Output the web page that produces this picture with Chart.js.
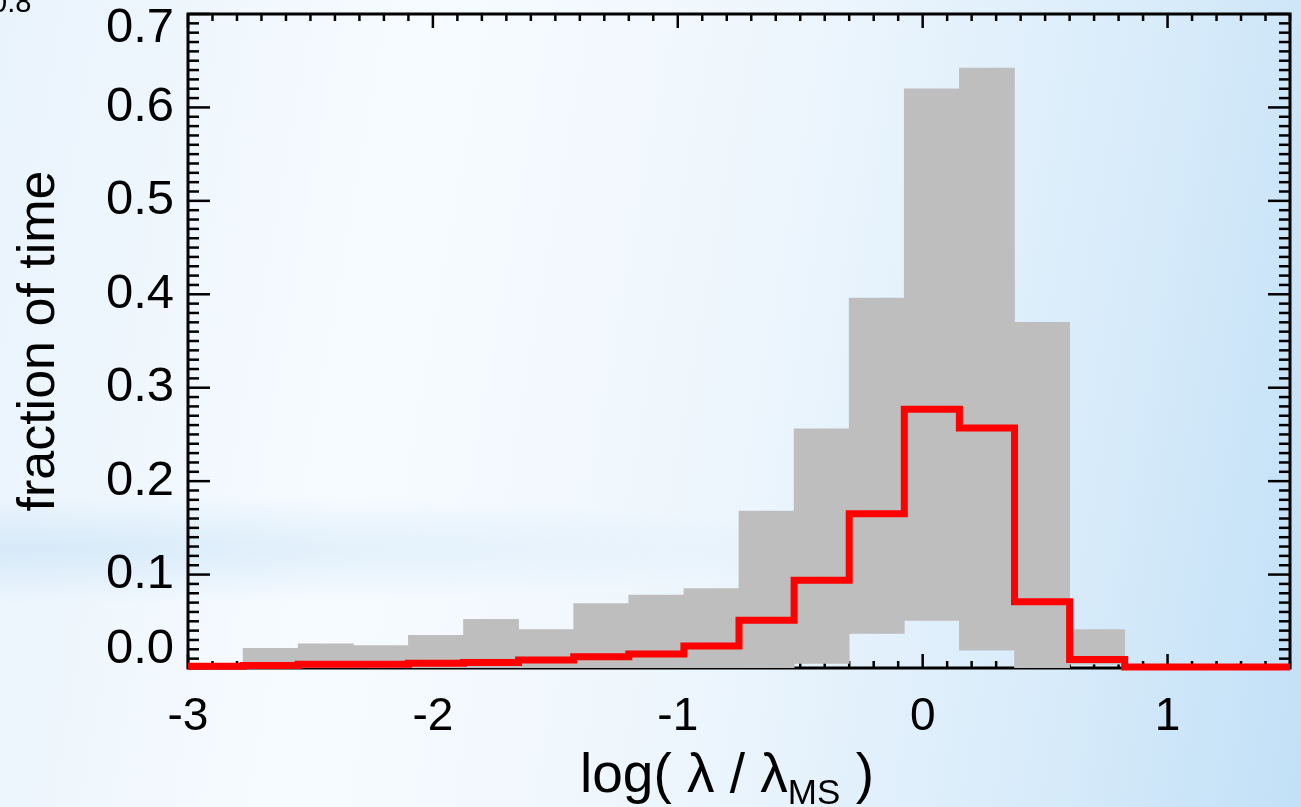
<!DOCTYPE html>
<html>
<head>
<meta charset="utf-8">
<title>fraction of time</title>
<script src="https://cdn.jsdelivr.net/npm/chart.js@4.4.1/dist/chart.umd.min.js"></script>
<style>
  html, body { margin: 0; padding: 0; }
  body {
    width: 1301px;
    height: 807px;
    overflow: hidden;
    background:
      radial-gradient(ellipse 900px 55px at 0% 68%, rgba(200, 226, 246, 0.6), rgba(200, 226, 246, 0) 100%),
      linear-gradient(100deg, #e9f3fc 0%, #f6fbff 30%, #eef6fd 55%, #d9ecfa 80%, #c2e0f7 100%);
  }
  #wrap { position: relative; width: 1301px; height: 807px; }
</style>
</head>
<body>
<div id="wrap"><canvas id="chart" width="1301" height="807"></canvas></div>
<script>
// bin edges in log(lambda / lambda_MS), 20 bins from -3 to 1.5
const binEdges = [-3, -2.775, -2.55, -2.325, -2.1, -1.875, -1.65, -1.425, -1.2, -0.975,
  -0.75, -0.525, -0.3, -0.075, 0.15, 0.375, 0.6, 0.825, 1.05, 1.275, 1.5];
// grey band (range), null = no band in that bin
const grayLow = [null, 0, 0, 0, 0, 0, 0, 0, 0, 0,
  0, 0.005, 0.037, 0.051, 0.019, 0, 0.004, null, null, null];
const grayHigh = [null, 0.021, 0.026, 0.024, 0.035, 0.052, 0.041, 0.069, 0.078, 0.085,
  0.168, 0.256, 0.396, 0.620, 0.642, 0.370, 0.041, null, null, null];
// red histogram
const redFrac = [0.002, 0.0027, 0.004, 0.004, 0.005, 0.006, 0.0086, 0.012, 0.015, 0.0235,
  0.051, 0.094, 0.165, 0.277, 0.257, 0.071, 0.009, 0.001, 0.001, 0.001];
const xTicks = [-3, -2, -1, 0, 1];
const yTicks = [0, 0.1, 0.2, 0.3, 0.4, 0.5, 0.6, 0.7];

const FONT = '"Liberation Sans", Arial, Helvetica, sans-serif';

const bandData = [];
grayHigh.forEach((hi, i) => {
  if (hi == null) return;
  bandData.push({ x: (binEdges[i] + binEdges[i + 1]) / 2, y: [grayLow[i], hi] });
});
const stepData = redFrac.map((v, i) => ({ x: binEdges[i], y: v }));
stepData.push({ x: binEdges[binEdges.length - 1], y: redFrac[redFrac.length - 1] });

// IDL style frame with inward ticks on all four sides
const idlAxes = {
  id: 'idlAxes',
  beforeDatasetsDraw(chart) {
    const { ctx, chartArea: a, scales: { x, y } } = chart;
    const seg = (x1, y1, x2, y2) => { ctx.beginPath(); ctx.moveTo(x1, y1); ctx.lineTo(x2, y2); ctx.stroke(); };
    ctx.save();
    ctx.strokeStyle = '#000';
    ctx.lineWidth = 2.5;
    for (let k = Math.round(x.min * 10); k <= Math.round(x.max * 10); k++) {
      const px = x.getPixelForValue(k / 10);
      const len = k % 10 === 0 ? 14 : 7;
      seg(px, a.bottom, px, a.bottom - len);
      seg(px, a.top, px, a.top + len);
    }
    for (let k = Math.round(y.min * 100); k <= Math.round(y.max * 100); k++) {
      const py = y.getPixelForValue(k / 100);
      const len = k % 10 === 0 ? 22 : 11;
      seg(a.left, py, a.left + len, py);
      seg(a.right, py, a.right - len, py);
    }
    ctx.lineWidth = 3;
    ctx.strokeRect(a.left, a.top, a.right - a.left, a.bottom - a.top);
    ctx.restore();
  },
  afterDraw(chart) {
    const { ctx, chartArea: a, scales: { y } } = chart;
    ctx.save();
    ctx.fillStyle = '#000';
    // y tick labels, end labels pulled inside the axis range
    ctx.font = '49px ' + FONT;
    ctx.textAlign = 'right';
    ctx.textBaseline = 'middle';
    yTicks.forEach((v, i) => {
      let py = y.getPixelForValue(v);
      if (i === 0) py -= 19;
      if (i === yTicks.length - 1) py += 14;
      ctx.fillText(v.toFixed(1), a.left - 14, py);
    });
    // x title with subscript
    ctx.textAlign = 'left';
    ctx.textBaseline = 'alphabetic';
    const main1 = 'log( \u03bb / \u03bb';
    const sub = 'MS';
    const main2 = ' )';
    ctx.font = '55px ' + FONT;
    const w1 = ctx.measureText(main1).width;
    const w3 = ctx.measureText(main2).width;
    ctx.font = '35px ' + FONT;
    const w2 = ctx.measureText(sub).width;
    let cx = (a.left + a.right) / 2 - 12 - (w1 + w2 + w3) / 2;
    const base = 792;
    ctx.font = '55px ' + FONT;
    ctx.fillText(main1, cx, base);
    cx += w1;
    ctx.font = '35px ' + FONT;
    ctx.fillText(sub, cx, base + 12);
    cx += w2;
    ctx.font = '55px ' + FONT;
    ctx.fillText(main2, cx, base);
    // clipped label left over at the top left corner
    ctx.font = '29px ' + FONT;
    ctx.fillText('0.8', -9, 12);
    ctx.restore();
  }
};

new Chart(document.getElementById('chart'), {
  type: 'bar',
  data: {
    datasets: [
      {
        type: 'line',
        label: 'red',
        data: stepData,
        stepped: true,
        borderColor: '#ff0000',
        borderWidth: 7,
        pointRadius: 0,
        fill: false,
        clip: false,
        order: 0
      },
      {
        type: 'bar',
        label: 'range',
        data: bandData,
        backgroundColor: '#bebebe',
        borderWidth: 0,
        barPercentage: 1,
        categoryPercentage: 1,
        grouped: false,
        order: 1
      }
    ]
  },
  options: {
    responsive: false,
    animation: false,
    layout: { padding: { top: 14, right: 11, left: 0, bottom: 0 } },
    plugins: { legend: { display: false }, tooltip: { enabled: false } },
    scales: {
      x: {
        type: 'linear',
        min: -3,
        max: 1.5,
        offset: false,
        grid: { display: false, drawTicks: false },
        border: { display: false },
        afterBuildTicks: (s) => { s.ticks = xTicks.map(v => ({ value: v })); },
        afterFit: (s) => { s.height = 807 - 668; s.paddingLeft = 0; s.paddingRight = 0; },
        ticks: {
          color: '#000',
          font: { family: FONT, size: 46 },
          padding: 22,
          maxRotation: 0,
          callback: (v) => String(v)
        }
      },
      y: {
        min: 0,
        max: 0.7,
        grid: { display: false, drawTicks: false },
        border: { display: false },
        afterBuildTicks: (s) => { s.ticks = yTicks.map(v => ({ value: v })); },
        afterFit: (s) => { s.width = 188; s.paddingTop = 0; s.paddingBottom = 0; },
        title: {
          display: true,
          text: 'fraction of time',
          color: '#000',
          font: { family: FONT, size: 52 },
          padding: { top: 8, bottom: 0 }
        },
        ticks: { display: false }
      }
    }
  },
  plugins: [idlAxes]
});
</script>
</body>
</html>
